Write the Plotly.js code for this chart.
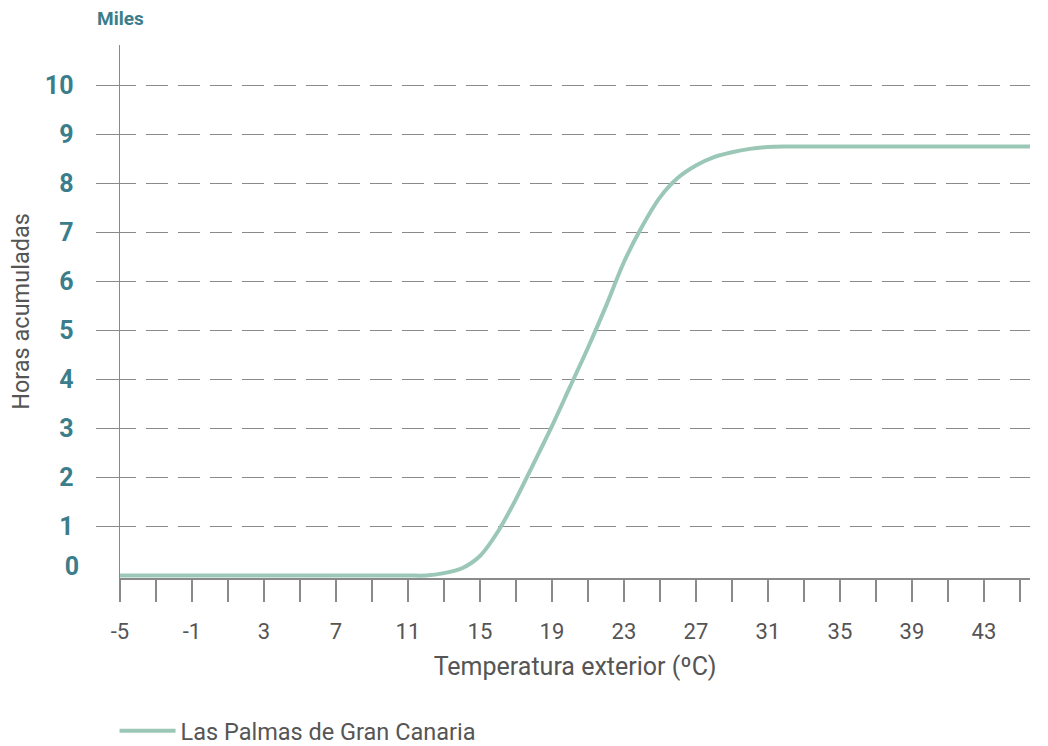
<!DOCTYPE html>
<html>
<head>
<meta charset="utf-8">
<script src="https://cdn.plot.ly/plotly-3.0.1.min.js"></script>
<style>
  html, body { margin: 0; padding: 0; background: #ffffff; }
  #chart { width: 1048px; height: 746px; }
</style>
</head>
<body>
<div id="chart"></div>
<script>
// Temperature (ºC)
const temperatures = [-5,-4,-3,-2,-1,0,1,2,3,4,5,6,7,8,9,10,11,12,13,14,15,16,17,18,19,20,21,22,23,24,25,26,27,28,29,30,31,32,33,34,35,36,37,38,39,40,41,42,43,44,45,46];
// Accumulated hours (thousands)
const horasAcumuladas = [0,0,0,0,0,0,0,0,0,0,0,0,0,0,0,0,0,0,0.05,0.15,0.4,0.9,1.56,2.3,3.05,3.85,4.65,5.5,6.4,7.12,7.72,8.12,8.37,8.54,8.64,8.71,8.75,8.76,8.76,8.76,8.76,8.76,8.76,8.76,8.76,8.76,8.76,8.76,8.76,8.76,8.76,8.76];
const seriesName = "Las Palmas de Gran Canaria";

const xTickVals = [-5,-3,-1,1,3,5,7,9,11,13,15,17,19,21,23,25,27,29,31,33,35,37,39,41,43,45];
const xTickText = xTickVals.map((v, i) => (i % 2 === 0 ? String(v) : ""));
const yTickVals = [1,2,3,4,5,6,7,8,9,10];
const yZeroLabelPos = [0.18];
const yZeroLabelText = ["0"];

const teal = "#3b7d8b";
const gray = "#555555";
const lineGray = "#8a8a8a";
const curveColor = "#9bc7b7";
const fontFam = "Roboto, 'DejaVu Sans', sans-serif";
const gridDash = "16px,10px" + ",22px,10px".repeat(40);

const trace = {
  x: temperatures,
  y: horasAcumuladas,
  type: "scatter",
  mode: "lines",
  name: seriesName,
  line: { color: curveColor, width: 4, shape: "spline", smoothing: 0.8 },
  hoverinfo: "x+y"
};

// carrier trace so the secondary (label-only) y axis is drawn
const zeroAxisTrace = {
  x: [temperatures[0]],
  y: [horasAcumuladas[0]],
  yaxis: "y2",
  type: "scatter",
  mode: "lines",
  showlegend: false,
  hoverinfo: "skip",
  line: { color: "rgba(0,0,0,0)" }
};

const layout = {
  width: 1048,
  height: 746,
  paper_bgcolor: "#ffffff",
  plot_bgcolor: "#ffffff",
  margin: { l: 120, r: 18, t: 45, b: 168, autoexpand: false },
  font: { family: fontFam, color: gray },
  showlegend: true,
  legend: {
    orientation: "h",
    x: -0.006, xanchor: "left",
    y: -0.287, yanchor: "middle",
    font: { family: fontFam, size: 23.5, color: gray },
    itemwidth: 56,
    bgcolor: "rgba(0,0,0,0)"
  },
  xaxis: {
    range: [-5, 45.56],
    tickmode: "array",
    tickvals: xTickVals,
    ticktext: xTickText,
    ticks: "outside",
    ticklen: 22,
    tickwidth: 1.5,
    tickcolor: lineGray,
    ticklabelstandoff: 11,
    tickfont: { family: fontFam, size: 22, color: gray },
    showline: true,
    linecolor: lineGray,
    linewidth: 1.5,
    showgrid: false,
    zeroline: false,
    automargin: false,
    title: { text: "Temperatura exterior (ºC)", font: { family: fontFam, size: 25, color: gray }, standoff: 14 }
  },
  yaxis: {
    range: [-0.05, 10.83],
    tickmode: "array",
    tickvals: yTickVals,
    ticktext: yTickVals.map(String),
    ticks: "outside",
    ticklen: 23,
    tickwidth: 1.5,
    tickcolor: lineGray,
    ticklabelstandoff: 17,
    tickfont: { family: fontFam, size: 25, color: teal, weight: "bold" },
    showline: true,
    linecolor: lineGray,
    linewidth: 1.5,
    showgrid: true,
    gridcolor: lineGray,
    gridwidth: 1.5,
    griddash: gridDash,
    zeroline: false,
    automargin: false,
    title: { text: "Horas acumuladas", font: { family: fontFam, size: 23.5, color: gray }, standoff: 8 }
  },
  yaxis2: {
    overlaying: "y",
    side: "left",
    range: [-0.05, 10.83],
    tickmode: "array",
    tickvals: yZeroLabelPos,
    ticktext: yZeroLabelText,
    ticks: "",
    ticklabelstandoff: 40,
    tickfont: { family: fontFam, size: 25, color: teal, weight: "bold" },
    showline: false,
    showgrid: false,
    zeroline: false,
    automargin: false,
    fixedrange: true
  },
  annotations: [
    {
      text: "<b>Miles</b>",
      xref: "paper", yref: "paper",
      x: 0, y: 1, xanchor: "center", yanchor: "bottom",
      yshift: 13,
      showarrow: false,
      font: { family: fontFam, size: 19, color: teal }
    }
  ]
};

Plotly.newPlot("chart", [trace, zeroAxisTrace], layout, { displayModeBar: false, staticPlot: true });
</script>
</body>
</html>
